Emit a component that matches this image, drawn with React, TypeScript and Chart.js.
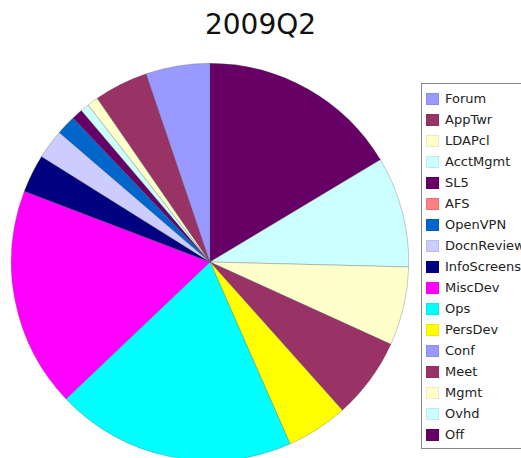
import { useEffect, useRef } from 'react';
import { Chart, ChartConfiguration, registerables } from 'chart.js';

Chart.register(...registerables);

// Slices clockwise from 12 o'clock (the legend lists them in reverse)
const categories = [
  'Off', 'Ovhd', 'Mgmt', 'Meet', 'Conf', 'PersDev', 'Ops', 'MiscDev',
  'InfoScreens', 'DocnReview', 'OpenVPN', 'AFS', 'SL5', 'AcctMgmt',
  'LDAPcl', 'AppTwr', 'Forum',
];
const shares = [
  16.4, 9.0, 6.4, 6.6, 0, 5.0, 19.5, 17.9,
  3.1, 2.4, 1.6, 0, 0.9, 0.7,
  0.9, 4.4, 5.2,
];
const sliceColors = [
  '#660066', '#CCFFFF', '#FFFFCC', '#993366', '#9999FF', '#FFFF00', '#00FFFF', '#FF00FF',
  '#000080', '#CCCCFF', '#0066CC', '#FF8080', '#660066', '#CCFFFF',
  '#FFFFCC', '#993366', '#9999FF',
];
const chartTitle = '2009Q2';

const font = '"DejaVu Sans", "Lucida Grande", sans-serif';

const PieChart = () => {
  const canvasRef = useRef<HTMLCanvasElement>(null);
  const chartRef = useRef<Chart | null>(null);

  useEffect(() => {
    if (!canvasRef.current) return;
    if (chartRef.current) chartRef.current.destroy();

    const config: ChartConfiguration = {
      type: 'pie',
      data: {
        labels: categories,
        datasets: [
          {
            data: shares,
            backgroundColor: sliceColors,
            borderColor: 'rgba(80, 80, 80, 0.6)',
            borderWidth: 0.5,
          },
        ],
      },
      options: {
        responsive: true,
        maintainAspectRatio: false,
        animation: false,
        layout: { padding: 0 },
        plugins: {
          legend: { display: false },
          title: { display: false },
          tooltip: { enabled: false },
        },
      },
    };

    chartRef.current = new Chart(canvasRef.current, config);

    return () => {
      if (chartRef.current) {
        chartRef.current.destroy();
        chartRef.current = null;
      }
    };
  }, []);

  const legendItems = categories.map((c, i) => ({ label: c, color: sliceColors[i] })).reverse();

  return (
    <div
      style={{
        position: 'fixed',
        left: 0,
        top: 0,
        width: 521,
        height: 458,
        overflow: 'hidden',
        background: '#fff',
        fontFamily: font,
      }}
    >
      <div
        style={{
          position: 'absolute',
          left: 0,
          top: 7,
          width: 521,
          textAlign: 'center',
          fontSize: 28,
          lineHeight: '36px',
          color: '#111',
        }}
      >
        {chartTitle}
      </div>

      <div style={{ position: 'absolute', left: 11, top: 63, width: 398, height: 398 }}>
        <canvas ref={canvasRef}></canvas>
      </div>

      {/* Legend box, runs past the right edge like the reference */}
      <div
        style={{
          position: 'absolute',
          left: 421,
          top: 83,
          width: 120,
          height: 366,
          border: '1px solid #888',
          background: '#fff',
          boxSizing: 'border-box',
        }}
      >
        {legendItems.map((item, i) => (
          <div
            key={item.label}
            style={{
              position: 'absolute',
              left: 4,
              top: 4 + i * 21.03,
              height: 21,
              display: 'flex',
              alignItems: 'center',
              whiteSpace: 'nowrap',
              fontSize: 13,
              color: '#222',
            }}
          >
            <div
              style={{
                width: 13,
                height: 12,
                background: item.color,
                marginRight: 6,
                boxShadow: 'inset 0 0 0 1px rgba(0,0,0,0.08)',
              }}
            ></div>
            <span>{item.label}</span>
          </div>
        ))}
      </div>
    </div>
  );
};

export default function App() {
  return <PieChart />;
}
